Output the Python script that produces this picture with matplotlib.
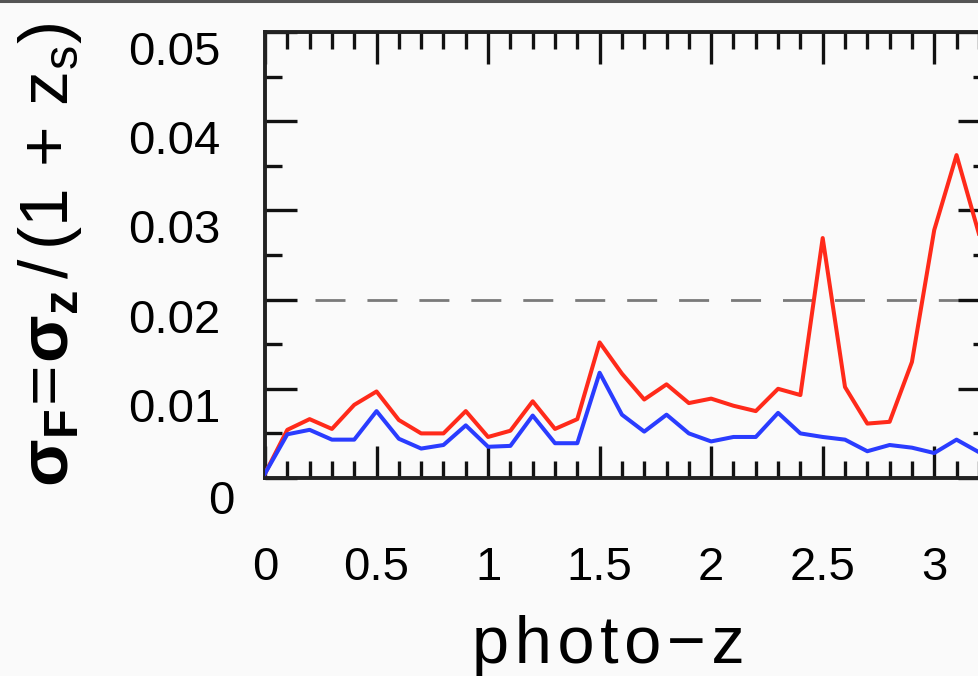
import matplotlib
matplotlib.use("Agg")
import matplotlib.pyplot as plt
import matplotlib.transforms as mtransforms
from matplotlib.ticker import MultipleLocator
from matplotlib.lines import Line2D

plt.rcParams['font.family'] = ['Liberation Sans', 'DejaVu Sans']
plt.rcParams['mathtext.fontset'] = 'custom'
plt.rcParams['mathtext.rm'] = 'Liberation Sans'
plt.rcParams['mathtext.it'] = 'Liberation Sans'
plt.rcParams['mathtext.bf'] = 'Liberation Sans:bold'
plt.rcParams['lines.scale_dashes'] = False

# photo-z bins
photo_z = [0.0, 0.1, 0.2, 0.3, 0.4, 0.5, 0.6, 0.7, 0.8, 0.9, 1.0, 1.1, 1.2,
           1.3, 1.4, 1.5, 1.6, 1.7, 1.8, 1.9, 2.0, 2.1, 2.2, 2.3, 2.4, 2.5,
           2.6, 2.7, 2.8, 2.9, 3.0, 3.1, 3.2]

# red curve
sigma_red = [0.0005, 0.0054, 0.0066, 0.0055, 0.0082, 0.0097, 0.0065, 0.0050,
             0.0050, 0.0075, 0.0046, 0.0053, 0.0086, 0.0055, 0.0066, 0.0152,
             0.0117, 0.0088, 0.0105, 0.0084, 0.0089, 0.0081, 0.0075, 0.0100,
             0.0093, 0.0269, 0.0102, 0.0061, 0.0063, 0.0130, 0.0278, 0.0362,
             0.0274]

# blue curve
sigma_blue = [0.0005, 0.0049, 0.0054, 0.0043, 0.0043, 0.0075, 0.0044, 0.0033,
              0.0037, 0.0059, 0.0035, 0.0036, 0.0070, 0.0039, 0.0039, 0.0118,
              0.0071, 0.0052, 0.0071, 0.0050, 0.0041, 0.0046, 0.0046, 0.0073,
              0.0050, 0.0046, 0.0043, 0.0030, 0.0037, 0.0034, 0.0028, 0.0043,
              0.0029]

threshold = 0.02

fig = plt.figure(figsize=(9.79, 6.76), dpi=100, facecolor='#fafafa')
ax = fig.add_axes([265 / 979, 198 / 676, 725 / 979, 446 / 676])
ax.set_facecolor('#fafafa')

ax.axhline(threshold, color='#7a7a7a', lw=2.0, linestyle=(1.4, (21.6, 15.8)), zorder=1)
ax.plot(photo_z, sigma_red, color='#ff2a1a', lw=2.9, zorder=3)
ax.plot(photo_z, sigma_blue, color='#2a3cff', lw=2.9, zorder=3)

ax.set_xlim(0, 3.25)
ax.set_ylim(0, 0.05)
ax.xaxis.set_major_locator(MultipleLocator(0.5))
ax.xaxis.set_minor_locator(MultipleLocator(0.1))
ax.yaxis.set_major_locator(MultipleLocator(0.01))
ax.yaxis.set_minor_locator(MultipleLocator(0.005))
ax.set_xticks([0, 0.5, 1, 1.5, 2, 2.5, 3])
ax.set_xticklabels(['0', '0.5', '1', '1.5', '2', '2.5', '3'])
ax.set_yticks([0, 0.01, 0.02, 0.03, 0.04, 0.05])
ax.set_yticklabels(['0', '0.01', '0.02', '0.03', '0.04', '0.05'])

ax.tick_params(which='both', direction='in', top=True, right=True,
               width=2.4, color='#111111')
ax.tick_params(which='major', length=23)
ax.tick_params(which='minor', length=12)
ax.tick_params(axis='x', labelsize=34, pad=49)
ax.tick_params(axis='y', labelsize=34, pad=32)
for s in ax.spines.values():
    s.set_linewidth(2.8)
    s.set_color('#222222')

# y tick labels sit a little below their ticks
down = mtransforms.ScaledTranslation(0, -16 / 100, fig.dpi_scale_trans)
for lab in ax.get_yticklabels():
    lab.set_transform(lab.get_transform() + down)
zero = ax.get_yticklabels()[0]
zero.set_transform(zero.get_transform() +
                   mtransforms.ScaledTranslation(14 / 100, -3 / 100, fig.dpi_scale_trans))

fig.text(608 / 979, 1 - 663 / 676, 'p\u200ah\u200ao\u200at\u200ao\u200a\u2212\u200az',
         fontsize=48, ha='center', va='baseline')
fig.text(50 / 979, 1 - 255 / 676,
         r'$\mathbf{\sigma}_{\mathbf{F}}\!=\!\mathbf{\sigma}_{\mathbf{z}}\,/\,(\mathrm{1}\,+\,\mathrm{z}_{\mathrm{s}})$',
         fontsize=50, rotation=90, ha='center', va='center')

fig.add_artist(Line2D([0, 1], [1 - 1 / 676, 1 - 1 / 676], color='#555555', lw=2.2,
                      transform=fig.transFigure))

fig.savefig('out.png', dpi=100, facecolor='#fafafa')
